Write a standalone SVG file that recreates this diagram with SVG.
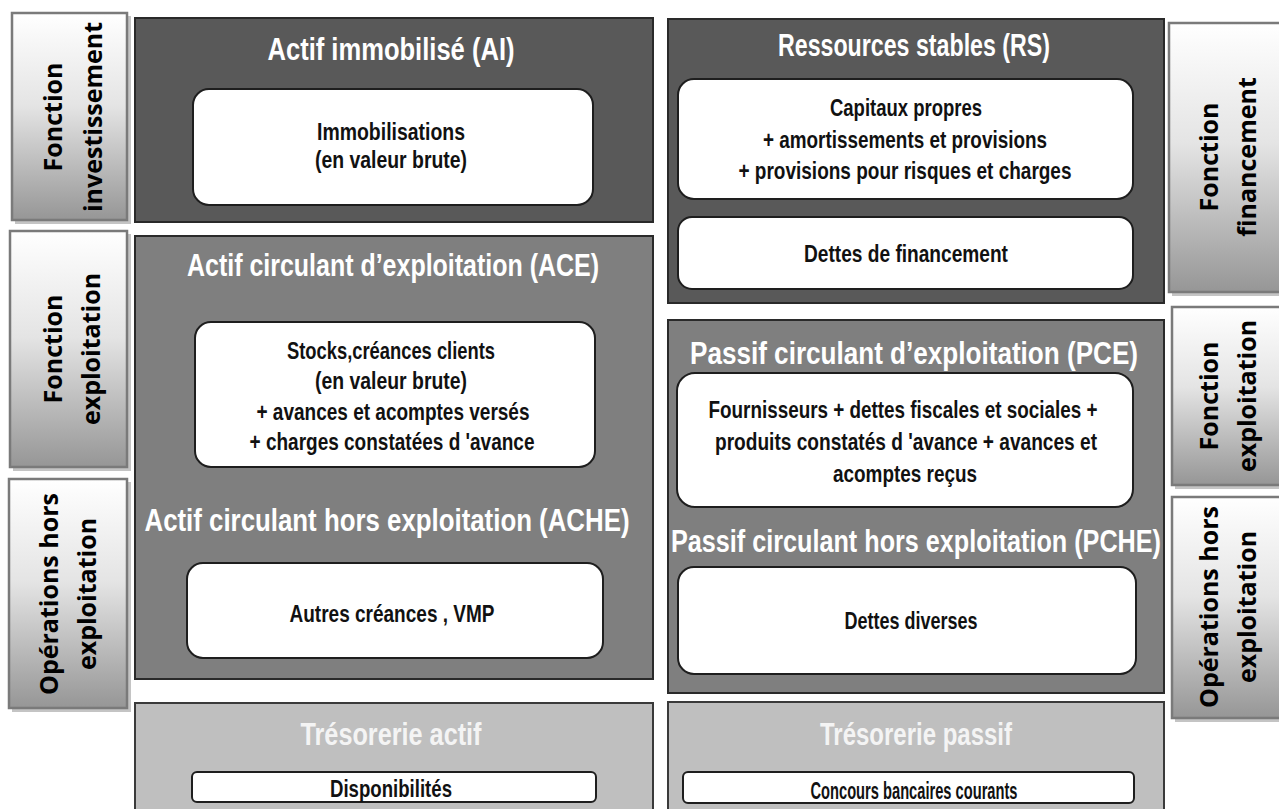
<svg xmlns="http://www.w3.org/2000/svg" width="1279" height="809" viewBox="0 0 1279 809">
<defs>
<linearGradient id="lg" x1="0" y1="0" x2="0" y2="1">
<stop offset="0" stop-color="#ffffff"/>
<stop offset="0.45" stop-color="#e4e4e4"/>
<stop offset="1" stop-color="#969696"/>
</linearGradient>
<style>
.lab{fill:url(#lg);stroke:#7a7a7a;stroke-width:2.5}
.shd{fill:#c4c4c4}
.lt{font-family:"Open Sans","DejaVu Sans",sans-serif;font-weight:bold;font-size:25px;fill:#000;text-anchor:middle}
.dark{fill:#595959;stroke:#2a2a2a;stroke-width:2}
.mid{fill:#7f7f7f;stroke:#2a2a2a;stroke-width:2}
.light{fill:#bfbfbf;stroke:#3a3a3a;stroke-width:2}
.inner{fill:#fff;stroke:#1e1e1e;stroke-width:2}
.ttl{font-family:"Liberation Sans Narrow","Liberation Sans",sans-serif;font-weight:bold;font-size:31px;fill:#fff;text-anchor:middle}
.ttl2{font-family:"Liberation Sans Narrow","Liberation Sans",sans-serif;font-weight:bold;font-size:31px;fill:#f4f4f4;text-anchor:middle}
.ct{font-family:"Liberation Sans Narrow","Liberation Sans",sans-serif;font-weight:bold;font-size:24px;fill:#111;text-anchor:middle}
</style>
</defs>
<rect width="1279" height="809" fill="#fff"/>

<g id="label-fonction-investissement">
<rect class="shd" x="15" y="16" width="116" height="208"/>
<rect class="lab" x="12" y="13" width="115" height="207"/>
<text class="lt" transform="translate(62,117) rotate(-90)">Fonction</text>
<text class="lt" transform="translate(102,117) rotate(-90)" textLength="190" lengthAdjust="spacingAndGlyphs">investissement</text>
</g>
<g id="label-fonction-exploitation-left">
<rect class="shd" x="13" y="234" width="118" height="237"/>
<rect class="lab" x="10" y="231" width="117" height="236"/>
<text class="lt" transform="translate(62,349) rotate(-90)">Fonction</text>
<text class="lt" transform="translate(100,349) rotate(-90)">exploitation</text>
</g>
<g id="label-operations-hors-exploitation-left">
<rect class="shd" x="12" y="482" width="119" height="230"/>
<rect class="lab" x="9" y="479" width="118" height="229"/>
<text class="lt" transform="translate(58,594) rotate(-90)">Opérations hors</text>
<text class="lt" transform="translate(96,594) rotate(-90)">exploitation</text>
</g>

<g id="label-fonction-financement">
<rect class="shd" x="1172" y="26" width="110" height="270"/>
<rect class="lab" x="1169" y="23" width="115" height="269"/>
<text class="lt" transform="translate(1218,157) rotate(-90)">Fonction</text>
<text class="lt" transform="translate(1256,157) rotate(-90)">financement</text>
</g>
<g id="label-fonction-exploitation-right">
<rect class="shd" x="1175" y="310" width="110" height="179"/>
<rect class="lab" x="1172" y="307" width="115" height="178"/>
<text class="lt" transform="translate(1218,396) rotate(-90)">Fonction</text>
<text class="lt" transform="translate(1256,396) rotate(-90)">exploitation</text>
</g>
<g id="label-operations-hors-exploitation-right">
<rect class="shd" x="1175" y="500" width="110" height="222"/>
<rect class="lab" x="1172" y="497" width="115" height="221"/>
<text class="lt" transform="translate(1218,607) rotate(-90)">Opérations hors</text>
<text class="lt" transform="translate(1256,607) rotate(-90)">exploitation</text>
</g>

<g id="actif-immobilise">
<rect class="dark" x="135" y="18" width="518" height="204"/>
<text class="ttl" x="391" y="60" textLength="247" lengthAdjust="spacingAndGlyphs">Actif immobilisé (AI)</text>
<rect class="inner" x="193" y="89" width="400" height="116" rx="16"/>
<text class="ct" x="391" y="140" textLength="148" lengthAdjust="spacingAndGlyphs">Immobilisations</text>
<text class="ct" x="391" y="168" textLength="152" lengthAdjust="spacingAndGlyphs">(en valeur brute)</text>
</g>

<g id="ressources-stables">
<rect class="dark" x="668" y="19" width="496" height="284"/>
<text class="ttl" x="914" y="56" textLength="272" lengthAdjust="spacingAndGlyphs">Ressources stables (RS)</text>
<rect class="inner" x="678" y="79" width="455" height="120" rx="16"/>
<text class="ct" x="906" y="116" textLength="152" lengthAdjust="spacingAndGlyphs">Capitaux propres</text>
<text class="ct" x="905" y="148" textLength="284" lengthAdjust="spacingAndGlyphs">+ amortissements et provisions</text>
<text class="ct" x="905" y="179" textLength="333" lengthAdjust="spacingAndGlyphs">+ provisions pour risques et charges</text>
<rect class="inner" x="678" y="217" width="455" height="72" rx="14"/>
<text class="ct" x="906" y="262" textLength="204" lengthAdjust="spacingAndGlyphs">Dettes de financement</text>
</g>

<g id="actif-circulant">
<rect class="mid" x="135" y="236" width="518" height="443"/>
<text class="ttl" x="393" y="276" textLength="412" lengthAdjust="spacingAndGlyphs">Actif circulant d’exploitation (ACE)</text>
<rect class="inner" x="195" y="322" width="400" height="145" rx="16"/>
<text class="ct" x="391" y="359" textLength="208" lengthAdjust="spacingAndGlyphs">Stocks,créances clients</text>
<text class="ct" x="391" y="389" textLength="152" lengthAdjust="spacingAndGlyphs">(en valeur brute)</text>
<text class="ct" x="393" y="420" textLength="273" lengthAdjust="spacingAndGlyphs">+ avances et acomptes versés</text>
<text class="ct" x="392" y="450" textLength="285" lengthAdjust="spacingAndGlyphs">+ charges constatées d 'avance</text>
<text class="ttl" x="387" y="531" textLength="485" lengthAdjust="spacingAndGlyphs">Actif circulant hors exploitation (ACHE)</text>
<rect class="inner" x="187" y="563" width="416" height="95" rx="16"/>
<text class="ct" x="392" y="622" textLength="205" lengthAdjust="spacingAndGlyphs">Autres créances , VMP</text>
</g>

<g id="passif-circulant">
<rect class="mid" x="668" y="320" width="496" height="373"/>
<text class="ttl" x="914" y="364" textLength="448" lengthAdjust="spacingAndGlyphs">Passif circulant d’exploitation (PCE)</text>
<rect class="inner" x="677" y="373" width="456" height="134" rx="18"/>
<text class="ct" x="903" y="418" font-size="25" textLength="389" lengthAdjust="spacingAndGlyphs">Fournisseurs + dettes fiscales et sociales +</text>
<text class="ct" x="906" y="450" font-size="25" textLength="382" lengthAdjust="spacingAndGlyphs">produits constatés d 'avance + avances et</text>
<text class="ct" x="905" y="482" font-size="25" textLength="144" lengthAdjust="spacingAndGlyphs">acomptes reçus</text>
<text class="ttl" x="916" y="552" textLength="490" lengthAdjust="spacingAndGlyphs">Passif circulant hors exploitation (PCHE)</text>
<rect class="inner" x="678" y="567" width="458" height="107" rx="16"/>
<text class="ct" x="911" y="629" textLength="133" lengthAdjust="spacingAndGlyphs">Dettes diverses</text>
</g>

<g id="tresorerie-actif">
<rect class="light" x="135" y="703" width="518" height="112"/>
<text class="ttl2" x="391" y="745" textLength="181" lengthAdjust="spacingAndGlyphs">Trésorerie actif</text>
<rect class="inner" x="192" y="772" width="404" height="30" rx="5"/>
<text class="ct" x="391" y="797" textLength="122" lengthAdjust="spacingAndGlyphs">Disponibilités</text>
</g>

<g id="tresorerie-passif">
<rect class="light" x="668" y="702" width="496" height="113"/>
<text class="ttl2" x="916" y="745" textLength="192" lengthAdjust="spacingAndGlyphs">Trésorerie passif</text>
<rect class="inner" x="683" y="772" width="451" height="31" rx="5"/>
<text class="ct" x="914" y="799" font-size="25" textLength="207" lengthAdjust="spacingAndGlyphs">Concours bancaires courants</text>
</g>

<g id="connectors"/>
</svg>
